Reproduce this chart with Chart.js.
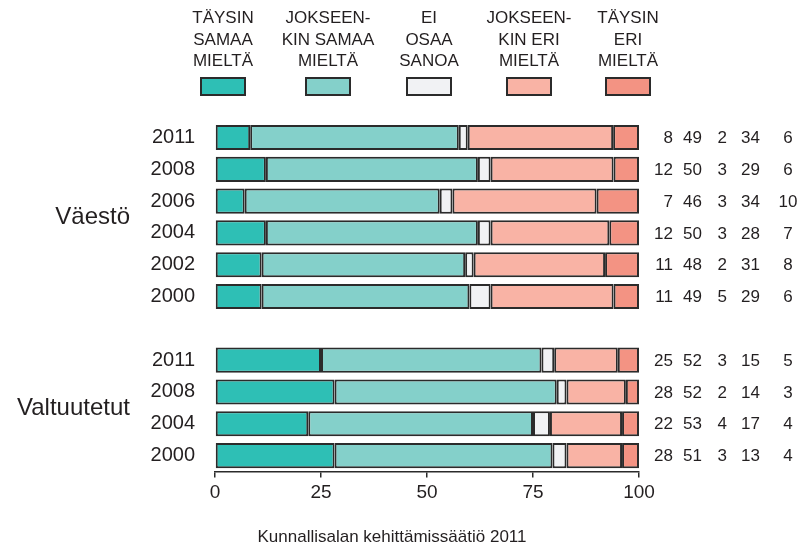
<!DOCTYPE html>
<html lang="fi">
<head>
  <meta charset="UTF-8" />
  <title>Väestö ja valtuutetut</title>
  <script src="https://cdn.jsdelivr.net/npm/chart.js"></script>
  <style>
    html, body { margin: 0; padding: 0; background: #fff; }
    #wrap { width: 806px; height: 548px; }
  </style>
</head>
<body>
  <div id="wrap"><canvas id="chart" width="806" height="548"></canvas></div>

  <script>
    // rows: Väestö 2011..2000, empty gap row, Valtuutetut 2011..2000
    const years = ['2011', '2008', '2006', '2004', '2002', '2000', '', '2011', '2008', '2004', '2000'];
    const groups = [
      { name: 'Väestö', first: 0, last: 5 },
      { name: 'Valtuutetut', first: 7, last: 10 }
    ];
    const legendLines = [
      ['TÄYSIN', 'SAMAA', 'MIELTÄ'],
      ['JOKSEEN-', 'KIN SAMAA', 'MIELTÄ'],
      ['EI', 'OSAA', 'SANOA'],
      ['JOKSEEN-', 'KIN ERI', 'MIELTÄ'],
      ['TÄYSIN', 'ERI', 'MIELTÄ']
    ];
    const colors = ['#2ebfb5', '#84d0ca', '#f1f2f4', '#f9b3a5', '#f39383'];

    // bar lengths (%)
    const taysinSamaa     = [8.3, 12, 7, 12, 11, 11, null, 25, 28.2, 22, 28.2];
    const jokseenkinSamaa = [49.2, 50, 46, 50, 48, 49, null, 52, 52.4, 53, 51.4];
    const eiOsaa          = [2.1, 3, 3, 3, 2, 5, null, 3, 2.3, 4, 3.3];
    const jokseenkinEri   = [34.3, 29, 34, 28, 31, 29, null, 15, 14, 17, 13.1];
    const taysinEri       = [6.1, 6, 10, 7, 8, 6, null, 5, 3.1, 4, 4];

    // printed numbers on the right
    const lblTaysinSamaa     = [8, 12, 7, 12, 11, 11, null, 25, 28, 22, 28];
    const lblJokseenkinSamaa = [49, 50, 46, 50, 48, 49, null, 52, 52, 53, 51];
    const lblEiOsaa          = [2, 3, 3, 3, 2, 5, null, 3, 2, 4, 3];
    const lblJokseenkinEri   = [34, 29, 34, 28, 31, 29, null, 15, 14, 17, 13];
    const lblTaysinEri       = [6, 6, 10, 7, 8, 6, null, 5, 3, 4, 4];

    const xTicks = [0, 25, 50, 75, 100];
    const source = 'Kunnallisalan kehittämissäätiö 2011';

    const series = [taysinSamaa, jokseenkinSamaa, eiOsaa, jokseenkinEri, taysinEri];
    const printed = [lblTaysinSamaa, lblJokseenkinSamaa, lblEiOsaa, lblJokseenkinEri, lblTaysinEri];

    const FONT = "'Liberation Sans', Arial, Helvetica, sans-serif";
    const INK = '#231f20';
    const EDGE = '#2b2b2b';
    Chart.defaults.font.family = FONT;
    Chart.defaults.color = INK;

    const decorations = {
      id: 'decorations',
      afterDraw(chart) {
        const ctx = chart.ctx;
        const y = chart.scales.y;
        ctx.save();
        ctx.fillStyle = INK;

        // legend on top
        const legendX = [223, 328, 429, 529, 628];
        ctx.font = '17px ' + FONT;
        ctx.textAlign = 'center';
        ctx.textBaseline = 'alphabetic';
        legendLines.forEach((lines, i) => {
          lines.forEach((t, k) => ctx.fillText(t, legendX[i], 23 + k * 21.5));
          ctx.fillStyle = colors[i];
          ctx.fillRect(legendX[i] - 22, 78, 44, 17);
          ctx.strokeStyle = EDGE;
          ctx.lineWidth = 2;
          ctx.strokeRect(legendX[i] - 22, 78, 44, 17);
          ctx.fillStyle = INK;
        });

        // numbers at the right of each bar
        const colX = [673, 702, 727, 760, 788];
        ctx.font = '17px ' + FONT;
        ctx.textBaseline = 'middle';
        printed.forEach((arr, i) => {
          ctx.textAlign = i === 4 ? 'center' : 'right';
          arr.forEach((v, j) => {
            if (v === null) return;
            ctx.fillText(String(v), colX[i], y.getPixelForValue(j) + 1);
          });
        });

        // group names
        ctx.font = '24px ' + FONT;
        ctx.textAlign = 'right';
        groups.forEach(g => {
          const cy = (y.getPixelForValue(g.first) + y.getPixelForValue(g.last)) / 2;
          ctx.fillText(g.name, 130, cy);
        });

        // source line
        ctx.font = '17px ' + FONT;
        ctx.textAlign = 'center';
        ctx.fillText(source, 392, 537);
        ctx.restore();
      }
    };

    new Chart(document.getElementById('chart'), {
      type: 'bar',
      data: {
        labels: years,
        datasets: series.map((data, i) => ({
          label: legendLines[i].join(' '),
          data: data,
          backgroundColor: colors[i],
          borderColor: EDGE,
          borderWidth: 2,
          borderSkipped: false,
          categoryPercentage: 1,
          barPercentage: 0.79
        }))
      },
      options: {
        indexAxis: 'y',
        responsive: false,
        animation: false,
        events: [],
        layout: { padding: { top: 121.6, right: 167, bottom: 0, left: 0 } },
        plugins: { legend: { display: false }, tooltip: { enabled: false } },
        scales: {
          x: {
            stacked: true,
            min: 0,
            max: 100,
            afterBuildTicks: s => { s.ticks = xTicks.map(v => ({ value: v })); },
            afterFit: s => { s.height = 548 - 121.6 - 349.9; },
            border: { display: true, color: EDGE, width: 1.5 },
            grid: { drawOnChartArea: false, drawTicks: true, tickLength: 6, color: EDGE, lineWidth: 1.5 },
            ticks: { font: { size: 19 }, color: INK, padding: 4, maxRotation: 0 }
          },
          y: {
            stacked: true,
            afterFit: s => { s.width = 215; },
            border: { display: false },
            grid: { display: false },
            ticks: { font: { size: 20 }, color: INK, padding: 12, autoSkip: false }
          }
        }
      },
      plugins: [decorations]
    });
  </script>
</body>
</html>
